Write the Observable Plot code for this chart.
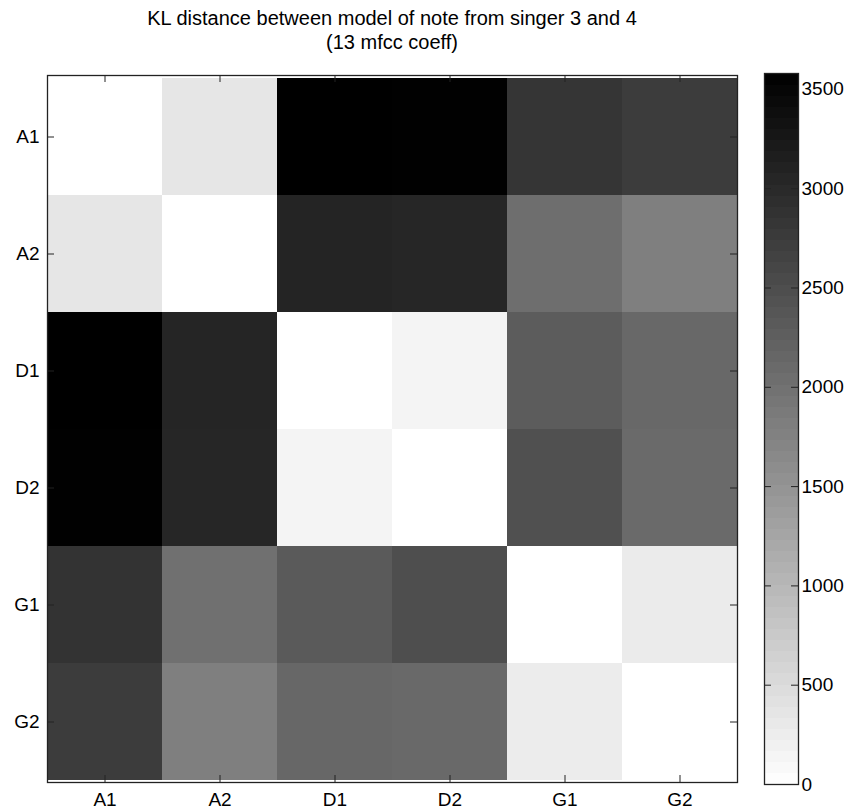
<!DOCTYPE html>
<html>
<head>
<meta charset="utf-8">
<script src="https://cdn.jsdelivr.net/npm/d3@7"></script>
<script src="https://cdn.jsdelivr.net/npm/@observablehq/plot@0.6"></script>
<style>
  html, body { margin: 0; padding: 0; background: #fff; }
  #wrap { position: relative; width: 854px; height: 811px; overflow: hidden; font-family: "Liberation Sans", Arial, sans-serif; background: #fff; }
  .title { position: absolute; left: 0; width: 784px; text-align: center; font-size: 20px; color: #000; line-height: 24px; z-index: 5; }
  #main, #bar { position: absolute; top: 0; z-index: 1; }
  #main { left: 0; }
  #bar { left: 740px; }
  svg { overflow: visible; }
</style>
</head>
<body>
<div id="wrap">
  <div class="title" style="top:6px">KL distance between model of note from singer 3 and 4</div>
  <div class="title" style="top:30px">(13 mfcc coeff)</div>
  <div id="main"></div>
  <div id="bar"></div>
</div>
<script>
// Categories (rows and columns share the same labels)
const notes = ["A1", "A2", "D1", "D2", "G1", "G2"];

// KL distance, one array per row (row label -> values across columns)
const rowA1 = [0, 351, 3580, 3570, 2836, 2738];
const rowA2 = [351, 0, 3070, 3050, 2036, 1797];
const rowD1 = [3580, 3060, 0, 154, 2288, 2120];
const rowD2 = [3570, 3047, 154, 0, 2457, 2092];
const rowG1 = [2864, 2008, 2316, 2485, 0, 281];
const rowG2 = [2738, 1797, 2130, 2100, 267, 0];

// Colorbar tick labels
const barTicks = [0, 500, 1000, 1500, 2000, 2500, 3000, 3500];
const colorMax = 3580;

const rows = [rowA1, rowA2, rowD1, rowD2, rowG1, rowG2];
const cells = [];
rows.forEach((vals, i) => vals.forEach((v, j) => cells.push({row: notes[i], col: notes[j], value: v})));

const colorScale = {type: "linear", domain: [0, colorMax], range: ["#ffffff", "#000000"], interpolate: "rgb"};
const fontFamily = '"Liberation Sans", Arial, sans-serif';

const W = 750, H = 811, mT = 75, mB = 29, mL = 47, mR = 13;
const pw = W - mL - mR, ph = H - mT - mB;
const tk = 7;

const main = Plot.plot({
  width: W, height: H,
  marginTop: mT, marginBottom: mB, marginLeft: mL, marginRight: mR,
  style: {fontFamily, fontSize: "20px", color: "#000", background: "transparent", overflow: "visible"},
  x: {type: "band", domain: notes, padding: 0, label: null},
  y: {type: "band", domain: notes, padding: 0, label: null},
  color: colorScale,
  marks: [
    Plot.cell(cells, {x: "col", y: "row", fill: "value", shapeRendering: "crispEdges"}),
    Plot.axisX({anchor: "bottom", tickSize: 0, tickPadding: 10, fontSize: 19, label: null}),
    Plot.axisY({anchor: "left", tickSize: 0, tickPadding: 8, fontSize: 19, label: null}),
    Plot.tickX(notes, {x: d => d, insetTop: ph - tk, stroke: "#222", strokeWidth: 1}),
    Plot.tickX(notes, {x: d => d, insetBottom: ph - tk, stroke: "#222", strokeWidth: 1}),
    Plot.tickY(notes, {y: d => d, insetRight: pw - tk, stroke: "#222", strokeWidth: 1}),
    Plot.tickY(notes, {y: d => d, insetLeft: pw - tk, stroke: "#222", strokeWidth: 1}),
    Plot.frame({stroke: "#222", strokeWidth: 1.3})
  ]
});
document.getElementById("main").appendChild(main);

// Vertical colorbar drawn with the same color scale
const BW = 114, bmT = 73, bmB = 27, bmL = 24, bmR = 56;
const bw = BW - bmL - bmR;
const nLevels = 64;
const bands = d3.range(nLevels).map(k => ({
  lo: k * colorMax / nLevels,
  hi: (k + 1) * colorMax / nLevels,
  mid: (k + 0.5) * colorMax / nLevels
}));
const bar = Plot.plot({
  width: BW, height: H,
  marginTop: bmT, marginBottom: bmB, marginLeft: bmL, marginRight: bmR,
  style: {fontFamily, fontSize: "20px", color: "#000", background: "transparent", overflow: "visible"},
  y: {type: "linear", domain: [0, colorMax], label: null},
  color: colorScale,
  marks: [
    Plot.rectY(bands, {y1: "lo", y2: "hi", fill: "mid", insetTop: -0.5, insetBottom: -0.5, shapeRendering: "crispEdges"}),
    Plot.tickY(barTicks.slice(1, -1), {y: d => d, insetRight: bw - tk, stroke: "#222"}),
    Plot.tickY(barTicks.slice(1, -1), {y: d => d, insetLeft: bw - tk, stroke: "#222"}),
    Plot.axisY(barTicks, {anchor: "right", tickSize: 0, tickPadding: 3, fontSize: 19, label: null, tickFormat: d => String(d)}),
    Plot.frame({stroke: "#222", strokeWidth: 1.3})
  ]
});
document.getElementById("bar").appendChild(bar);
</script>
</body>
</html>
